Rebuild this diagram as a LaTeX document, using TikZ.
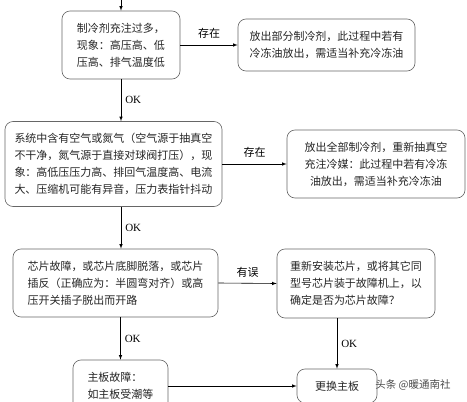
\documentclass[tikz,border=0pt]{standalone}
\usepackage{fontspec}
\setmainfont{Liberation Serif}
\newfontfamily\cjk{Noto Sans CJK SC}
\usepackage{tikz}

\begin{document}
\begin{tikzpicture}[x = 1pt, y = -1pt, >=latex, line width = 0.6pt,
    box/.style = {draw = black!60, rounded corners = 8pt, align = left, inner sep = 0pt,
        text = black!85, font = \cjk\fontsize{11}{17}\selectfont},
    ok/.style = {right, inner sep = 4pt, font = \fontsize{11}{13}\selectfont},
    tag/.style = {above, inner sep = 6pt, font = \cjk\fontsize{11}{13}\selectfont}]
        \useasboundingbox (0,0) rectangle (467,402);
        \fill [white] (0,0) rectangle (467,402);
        
        \coordinate (top) at (121,0);
        \node [box, minimum width = 118pt, minimum height = 68pt] (surplus) at (121,45)
            {制冷剂充注过多，\\现象：高压高、低\\压高、排气温度低};
        \node [box, minimum width = 177pt, minimum height = 52pt] (release) at (326.5,45)
            {放出部分制冷剂，此过程中若有\\冷冻油放出，需适当补充冷冻油};
        \node [box, minimum width = 217pt, minimum height = 85pt] (air) at (113.5,164)
            {系统中含有空气或氮气（空气源于抽真空\\不干净，氮气源于直接对球阀打压），现\\象：高低压压力高、排回气温度高、电流\\大、压缩机可能有异音，压力表指针抖动};
        \node [box, align = center, minimum width = 178pt, minimum height = 68pt] (recharge) at (376,164)
            {放出全部制冷剂，重新抽真空\\充注冷媒：此过程中若有冷冻\\油放出，需适当补充冷冻油};
        \node [box, minimum width = 205pt, minimum height = 68pt] (chip) at (115.5,283)
            {芯片故障，或芯片底脚脱落，或芯片\\插反（正确应为：半圆弯对齐）或高\\压开关插子脱出而开路};
        \node [box, minimum width = 158pt, minimum height = 69pt] (reseat) at (356,283.5)
            {重新安装芯片，或将其它同\\型号芯片装于故障机上，以\\确定是否为芯片故障？};
        \node [box, minimum width = 95pt, minimum height = 52pt] (board) at (120.5,386)
            {主板故障：\\如主板受潮等};
        \node [box, align = center, minimum width = 80pt, minimum height = 34pt] (swap) at (337,386)
            {更换主板};
        
        \draw [->] (top) -- (surplus.north);
        \draw [->] (surplus.east) -- node [tag] {存在} (release.west);
        \draw [->] (top |- surplus.south) -- node [ok] {OK} (top |- air.north);
        \draw [->] (air.east) -- node [tag] {存在} (recharge.west);
        \draw [->] (top |- air.south) -- node [ok] {OK} (top |- chip.north);
        \draw [->] (chip.east) -- node [tag] {有误} (reseat.west);
        \draw [->] (board.north |- chip.south) -- node [ok] {OK} (board.north);
        \draw [->] (swap.north |- reseat.south) -- node [ok] {OK} (swap.north);
        \draw [->] (board.east) -- (swap.west);
        
        \node [text = black!70, font = \cjk\fontsize{10.5}{12}\selectfont] (wm) at (413,385) {头条 @暖通南社};
    \end{tikzpicture}
\end{document}
